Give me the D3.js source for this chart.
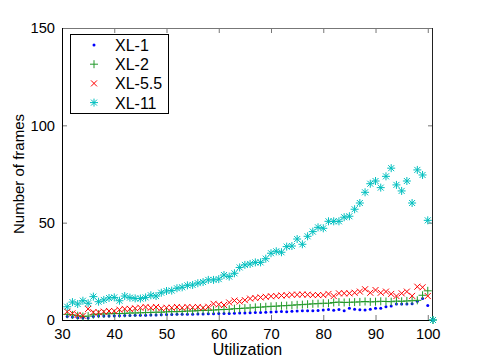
<!DOCTYPE html>
<html>
<head>
<meta charset="utf-8">
<script src="https://cdn.jsdelivr.net/npm/d3@7/dist/d3.min.js"></script>
<style>
  html, body { margin: 0; padding: 0; background: #fff; }
  svg { display: block; }
  text { font-family: "Liberation Sans", Arial, Helvetica, sans-serif; }
</style>
</head>
<body>
<svg id="chart" width="479" height="360"></svg>
<script>
// ---- data ----
const utilization = [31,32,33,34,35,36,37,38,39,40,41,42,43,44,45,46,47,48,49,50,
  51,52,53,54,55,56,57,58,59,60,61,62,63,64,65,66,67,68,69,70,
  71,72,73,74,75,76,77,78,79,80,81,82,83,84,85,86,87,88,89,90,
  91,92,93,94,95,96,97,98,99,100,101];

const xl1 = [1.8,1.5,1.2,1.0,1.0,1.8,2.0,2.0,2.1,2.2,2.2,2.3,2.3,2.4,2.5,2.5,2.6,2.6,2.7,2.8,
  2.8,2.9,2.9,3.0,3.0,3.1,3.1,3.2,3.2,3.3,3.3,3.4,3.5,3.6,3.6,3.7,3.8,3.9,4.0,4.1,
  4.2,4.4,4.3,4.5,4.6,4.7,4.7,4.8,4.9,5.1,5.4,5.0,5.4,4.8,6.0,5.5,5.3,5.1,5.5,6.0,
  6.1,6.8,7.2,8.2,8.2,8.2,8.3,9.6,11.0,7.5,0];

const xl2 = [2.9,2.6,2.2,1.8,2.0,2.7,3.0,3.1,3.2,3.3,3.3,3.4,3.6,3.6,3.7,3.8,3.9,4.0,4.0,4.2,
  4.3,4.3,4.4,4.6,4.6,4.8,4.9,5.0,5.1,5.3,5.4,5.5,5.8,5.9,6.1,6.2,6.5,6.6,6.8,7.0,
  7.1,7.3,7.4,7.6,7.8,7.9,8.1,8.3,8.4,8.6,8.6,9.0,9.2,9.0,9.1,9.2,9.3,9.5,9.3,9.4,
  9.6,9.5,9.4,9.7,9.6,9.8,9.9,10.1,12.7,15.0,0];

const xl55 = [4.3,3.4,2.6,2.2,5.7,4.0,4.0,4.3,4.6,4.6,5.3,5.7,5.7,6.0,6.3,6.7,6.3,6.7,6.0,6.3,
  6.3,6.7,6.3,6.7,6.5,6.7,6.3,6.8,8.3,8.0,7.7,9.0,10.0,9.5,10.2,11.0,11.3,11.6,11.9,12.2,
  12.3,12.6,12.7,13.0,13.0,13.1,13.0,12.8,12.8,12.8,13.4,12.3,13.7,13.7,13.7,14.0,14.6,15.8,14.0,15.4,
  14.0,14.6,13.4,12.3,13.7,14.6,12.4,17.1,16.8,12.3,0];

const xl11 = [6.8,9.2,8.2,9.9,8.6,12.0,9.4,10.3,11.3,11.6,9.9,12.3,11.5,11.1,11.0,11.6,12.7,12.3,14.0,14.9,
  15.1,16.3,16.8,17.8,18.0,18.9,19.5,20.6,20.6,21.0,23.1,22.3,24.0,27.0,28.3,28.8,29.6,29.6,31.5,34.3,
  35.3,34.8,37.7,38.0,41.6,38.9,43.0,45.4,47.6,47.1,50.7,50.7,50.7,52.8,53.3,56.9,60.1,65.6,70.0,71.4,
  68.0,73.8,78.0,69.4,66.3,71.4,60.1,77.1,74.5,51.2,0];

const seriesNames = ["XL-1", "XL-2", "XL-5.5", "XL-11"];
const seriesValues = [xl1, xl2, xl55, xl11];
const seriesColors = ["#0000ff", "#22992a", "#ff0000", "#00bfbf"];
const seriesMarkers = ["dot", "plus", "cross", "star"];

const xTicks = [30,40,50,60,70,80,90,100];
const yTicks = [0,50,100,150];
const xLabel = "Utilization";
const yLabel = "Number of frames";

// ---- layout ----
const L = 62, R = 433, T = 28, B = 320;
const x = d3.scaleLinear().domain([30, 101]).range([L, R]);
const y = d3.scaleLinear().domain([0, 150]).range([B, T]);

const svg = d3.select("#chart");

// axes with inward ticks
const tickColor = "#777";
function styleAxis(g, showLabels) {
  g.select(".domain").remove();
  g.selectAll(".tick line").attr("stroke", tickColor).attr("stroke-width", 1);
  g.selectAll(".tick text")
    .attr("fill", "#000")
    .style("font-size", "14.7px")
    .style("font-family", "'Liberation Sans', Arial, sans-serif");
  if (!showLabels) g.selectAll(".tick text").remove();
}

svg.append("g").attr("transform", `translate(0,${B})`)
  .call(d3.axisBottom(x).tickValues(xTicks).tickSizeInner(-5).tickSizeOuter(0).tickPadding(9).tickFormat(d3.format("d")))
  .call(g => styleAxis(g, true));
svg.append("g").attr("transform", `translate(0,${T})`)
  .call(d3.axisTop(x).tickValues(xTicks).tickSizeInner(-5).tickSizeOuter(0))
  .call(g => styleAxis(g, false));
svg.append("g").attr("transform", `translate(${L},0)`)
  .call(d3.axisLeft(y).tickValues(yTicks).tickSizeInner(-5).tickSizeOuter(0).tickPadding(7).tickFormat(d3.format("d")))
  .call(g => styleAxis(g, true));
svg.append("g").attr("transform", `translate(${R},0)`)
  .call(d3.axisRight(y).tickValues(yTicks).tickSizeInner(-5).tickSizeOuter(0))
  .call(g => styleAxis(g, false));

// box
svg.append("line").attr("x1", L).attr("x2", R).attr("y1", T + 0.5).attr("y2", T + 0.5).attr("stroke", "#777");
svg.append("line").attr("x1", L).attr("x2", R).attr("y1", B + 0.5).attr("y2", B + 0.5).attr("stroke", "#000");
svg.append("line").attr("x1", L + 0.5).attr("x2", L + 0.5).attr("y1", T).attr("y2", B + 1).attr("stroke", "#000");
svg.append("line").attr("x1", R - 0.5).attr("x2", R - 0.5).attr("y1", T).attr("y2", B + 1).attr("stroke", "#222");

// markers
function markerPath(type) {
  if (type === "plus") return "M-4,0H4M0,-4V4";
  if (type === "cross") return "M-3,-3L3,3M-3,3L3,-3";
  if (type === "star") return "M-4,0H4M0,-4V4M-3,-3L3,3M-3,3L3,-3";
  return null;
}
function drawMarker(g, type, color, cx, cy) {
  if (type === "dot") {
    g.append("circle").attr("cx", cx).attr("cy", cy).attr("r", 1.5).attr("fill", color);
  } else {
    g.append("path").attr("d", markerPath(type))
      .attr("transform", `translate(${cx},${cy})`)
      .attr("fill", "none").attr("stroke", color).attr("stroke-width", 1);
  }
}

const plot = svg.append("g");
seriesValues.forEach((vals, si) => {
  const g = plot.append("g");
  vals.forEach((v, i) => {
    drawMarker(g, seriesMarkers[si], seriesColors[si], x(utilization[i]), y(v));
  });
});

// axis labels
svg.append("text").attr("x", (L + R) / 2).attr("y", 355)
  .attr("text-anchor", "middle").style("font-size", "16px").text(xLabel);
svg.append("text")
  .attr("transform", `translate(24,${(T + B) / 2}) rotate(-90)`)
  .attr("text-anchor", "middle").style("font-size", "15px").text(yLabel);

// legend
const lg = svg.append("g");
lg.append("rect").attr("x", 70.5).attr("y", 34.5).attr("width", 98).attr("height", 79)
  .attr("fill", "#fff").attr("stroke", "#000");
seriesNames.forEach((name, i) => {
  const cy = 45 + i * 19.2;
  drawMarker(lg, seriesMarkers[i], seriesColors[i], 94, cy);
  lg.append("text").attr("x", 115).attr("y", cy + 6)
    .style("font-size", "16px").text(name);
});
</script>
</body>
</html>
